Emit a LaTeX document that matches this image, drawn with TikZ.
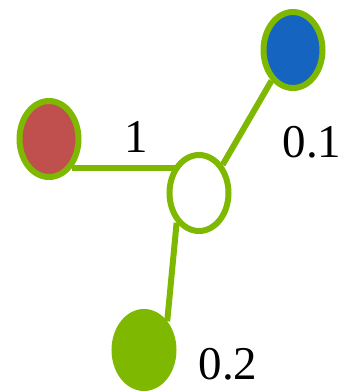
\documentclass[tikz,border=0pt]{standalone}
\usepackage{fontspec}
\setmainfont{Liberation Serif}
\usetikzlibrary{shapes.geometric}
\definecolor{lime}{HTML}{7FB800}
\definecolor{redfill}{HTML}{C0504D}
\definecolor{bluefill}{HTML}{1565C0}
\pgfdeclarelayer{bg}
\pgfsetlayers{bg,main}
\tikzset{
  vert/.style={ellipse, draw=lime, line width=6pt, minimum width=59pt, minimum height=76pt, inner sep=0pt},
  edge/.style={draw=lime, line width=6pt},
  lbl/.style={font=\fontsize{47}{47}\selectfont, inner sep=0pt}
}
\begin{document}
\begin{tikzpicture}[x=1pt,y=-1pt]
\useasboundingbox (0,0) rectangle (345,391);
\node[vert, fill=redfill] (red) at (49,139) {};
\node[vert, fill=bluefill] (blue) at (293,50) {};
\node[vert, fill=white] (hub) at (199,193) {};
\node[vert, fill=lime] (leaf) at (144,350) {};
\begin{pgfonlayer}{bg}
\draw[edge] (red.-52) -- (hub.center |- red.-52);
\draw[edge] (blue.235) -- (hub.50);
\draw[edge] (hub.233) -- (leaf.51);
\end{pgfonlayer}
\node[lbl] (l1) at (136,137) {1};
\node[lbl] (l2) at (312,142) {0.1};
\node[lbl] (l3) at (228,364) {0.2};
\end{tikzpicture}
\end{document}
